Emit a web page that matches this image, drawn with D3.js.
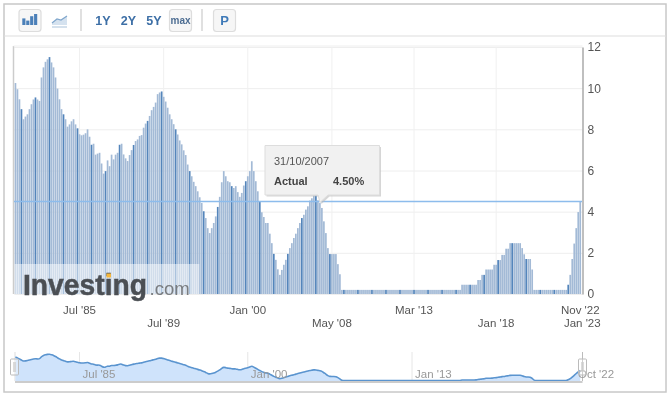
<!DOCTYPE html>
<html>
<head>
<meta charset="utf-8">
<script src="https://cdn.jsdelivr.net/npm/d3@7"></script>
<style>
  html, body { margin: 0; padding: 0; background: #fff; }
  svg { display: block; filter: blur(0.45px); font-family: "Liberation Sans", Arial, sans-serif; }
</style>
</head>
<body>
<div id="container"></div>
<script>
/* DATA */
const rates = [
  10.25,9.95,9.46,8.98,8.49,8.62,8.73,8.98,9.22,9.45,9.55,9.45,9.38,10.52,11.01,11.28,11.4,11.51,11.25,11.01,
  10.52,9.98,9.46,8.98,8.73,8.49,8.13,8.24,8.39,8.49,8.24,8.05,7.76,7.71,7.74,7.81,8.0,7.64,7.25,7.3,
  6.77,6.82,6.86,6.34,5.85,5.97,6.49,6.21,6.77,6.54,6.77,6.86,7.25,
  7.3,6.78,6.59,6.46,6.75,6.99,7.24,7.43,7.51,7.68,7.72,8.08,8.28,8.41,8.65,8.93,9.09,9.3,9.71,9.79,
  9.84,9.58,9.35,9.05,8.73,8.49,8.25,8.0,7.75,7.46,7.27,6.98,6.75,6.29,5.97,5.72,5.45,5.24,4.99,4.7,
  4.42,4.02,3.69,3.2,2.96,3.2,3.45,3.77,4.23,4.72,5.43,5.97,5.72,5.48,5.43,5.24,5.15,5.24,4.95,4.72,
  4.91,5.27,5.48,5.72,5.97,6.45,5.97,5.48,4.99,4.5,3.97,3.74,3.45,3.45,2.93,2.47,1.95,1.66,1.2,0.93,
  1.17,1.42,1.66,1.95,2.23,2.47,2.72,2.93,3.2,3.45,3.69,3.85,4.1,4.26,
  4.54,4.65,4.78,4.78,4.55,4.42,4.18,3.53,2.96,2.23,1.94,1.94,1.94,1.94,1.45,0.96,
  0.2,0.2,0.2,0.2,0.2,0.2,0.2,0.2,0.2,0.2,0.2,0.2,0.2,0.2,0.2,0.2,0.2,0.2,0.2,0.2,
  0.2,0.2,0.2,0.2,0.2,0.2,0.2,0.2,0.2,0.2,0.2,0.2,0.2,0.2,0.2,0.2,0.2,0.2,0.2,0.2,
  0.2,0.2,0.2,0.2,0.2,0.2,0.2,0.2,0.2,0.2,0.2,0.2,0.2,0.2,0.2,0.2,0.2,0.2,0.2,0.2,
  0.45,0.45,0.45,0.45,0.45,0.45,0.45,0.45,0.68,0.68,0.93,0.93,1.19,1.19,1.19,1.19,1.42,1.42,1.65,1.65,
  1.9,1.9,2.2,2.2,2.47,2.47,2.47,2.47,2.47,2.47,2.23,1.93,1.7,1.7,1.7,1.19,
  0.2,0.2,0.2,0.2,0.2,0.2,0.2,0.2,0.2,0.2,0.2,0.2,0.2,0.2,0.2,0.2,0.2,
  0.45,0.93,1.7,2.45,3.2,3.98,4.5
];
const yTicks = [0, 2, 4, 6, 8, 10, 12];
const xTickIndex = [32, 74, 116, 158, 199, 240, 282, 283];
const xTickLabels = ["Jul '85", "Jul '89", "Jan '00", "May '08", "Mar '13", "Jan '18", "Nov '22", "Jan '23"];
const xTickRow = [0, 1, 0, 1, 0, 1, 0, 1];
const navTickIndex = [32, 116, 198];
const navTickLabels = ["Jul '85", "Jan '00", "Jan '13"];
const navEndLabel = "Oct '22";
const rangeButtons = ["1Y", "2Y", "5Y"];
const iconBars = [3, 2, 4, 5];
const tooltipDate = "31/10/2007";
const tooltipName = "Actual";
const tooltipValue = 4.5;

/* CONSTANTS */
const width = 672, height = 396;
const plotLeft = 14.3, plotRight = 583.4, plotTop = 47, plotBottom = 294;
const navTop = 352, navBottom = 381;
const textColor = "#555";

const svg = d3.select("#container").append("svg")
  .attr("width", width)
  .attr("height", height);

svg.append("rect")
  .attr("x", 4).attr("y", 4).attr("width", 662).attr("height", 388)
  .attr("fill", "#fff").attr("stroke", "#c8c8c8").attr("stroke-width", 1.5);

/* SCALES */
const xScale = d3.scaleBand()
  .domain(d3.range(rates.length + 1))
  .range([plotLeft, plotRight])
  .padding(0.15);

const xCenter = i => xScale(i) + xScale.bandwidth() / 2;

const yScale = d3.scaleLinear()
  .domain([0, 12])
  .range([plotBottom, plotTop]);

const navY = d3.scaleLinear()
  .domain([0, 12])
  .range([navBottom, navTop + 1]);

/* TOOLBAR */
const toolbar = svg.append("g").attr("class", "toolbar");

function button(x, w) {
  toolbar.append("rect")
    .attr("x", x).attr("y", 9.5).attr("width", w).attr("height", 22).attr("rx", 3)
    .attr("fill", "#f6f6f6").attr("stroke", "#ddd").attr("stroke-width", 1.2);
}

button(19, 22);
const iconX = d3.scaleBand().domain(d3.range(iconBars.length)).range([21.5, 38]).padding(0.2);
const iconY = d3.scaleLinear().domain([0, 5]).range([25, 14]);
toolbar.selectAll(".icon-bar")
  .data(iconBars)
  .join("rect")
  .attr("class", "icon-bar")
  .attr("x", (d, i) => iconX(i))
  .attr("y", d => iconY(d))
  .attr("width", iconX.bandwidth())
  .attr("height", d => 25 - iconY(d))
  .attr("fill", "#4a7fb8");

toolbar.append("path")
  .attr("d", "M52,25 L52,23 L57,19 L61,20 L67,16 L67,25 Z")
  .attr("fill", "#d5e2ef");
toolbar.append("path")
  .attr("d", "M52,23 L57,19 L61,20 L67,16")
  .attr("fill", "none").attr("stroke", "#7fa6cc").attr("stroke-width", 1.2);
toolbar.append("line")
  .attr("x1", 52).attr("x2", 67).attr("y1", 27).attr("y2", 27)
  .attr("stroke", "#a9c2da");

[81, 202].forEach(x => {
  toolbar.append("line")
    .attr("x1", x).attr("x2", x).attr("y1", 9).attr("y2", 31)
    .attr("stroke", "#ccc").attr("stroke-width", 1.2);
});

toolbar.selectAll(".range")
  .data(rangeButtons)
  .join("text")
  .attr("class", "range")
  .attr("x", (d, i) => 103 + i * 25.5)
  .attr("y", 25)
  .attr("text-anchor", "middle")
  .attr("font-size", 12.5)
  .attr("font-weight", "bold")
  .attr("fill", "#3d6fa6")
  .text(d => d);

button(169.5, 22);
toolbar.append("text")
  .attr("x", 180.5).attr("y", 24)
  .attr("text-anchor", "middle")
  .attr("font-size", 10).attr("font-weight", "bold").attr("fill", "#4d6d92")
  .text("max");

button(213.5, 22);
toolbar.append("text")
  .attr("x", 224.5).attr("y", 25)
  .attr("text-anchor", "middle")
  .attr("font-size", 13).attr("font-weight", "bold").attr("fill", "#3f7ab8")
  .text("P");

toolbar.append("line")
  .attr("x1", 4).attr("x2", 666).attr("y1", 36).attr("y2", 36)
  .attr("stroke", "#ddd");

/* GRID */
svg.append("g")
  .attr("class", "y-grid")
  .attr("transform", `translate(${plotLeft},0)`)
  .call(d3.axisRight(yScale).tickValues(yTicks).tickSize(plotRight - 0.9 - plotLeft).tickFormat(""))
  .call(g => g.select(".domain").remove())
  .call(g => g.selectAll("line").attr("stroke", "#eee"));

svg.append("g")
  .attr("class", "x-grid")
  .attr("transform", `translate(0,${plotBottom})`)
  .call(d3.axisTop(xScale).tickValues(xTickIndex.slice(0, 6)).tickSize(plotBottom - plotTop).tickFormat(""))
  .call(g => g.select(".domain").remove())
  .call(g => g.selectAll("line").attr("stroke", "#f0f0f0"));

/* BARS */
svg.selectAll(".bar")
  .data(rates)
  .join("rect")
  .attr("class", "bar")
  .attr("x", (d, i) => xScale(i))
  .attr("y", d => yScale(d))
  .attr("width", xScale.bandwidth())
  .attr("height", d => plotBottom - yScale(d))
  .attr("fill", (d, i) => i % 7 === 3 ? "#5485bb" : "#a3bad6");

/* WATERMARK */
const mark = svg.append("g").attr("class", "watermark");
mark.append("rect")
  .attr("x", plotLeft).attr("y", 264).attr("width", 185).attr("height", 30)
  .attr("fill", "#fff").attr("opacity", 0.5);
mark.append("text")
  .attr("x", 23).attr("y", 295)
  .attr("font-size", 29).attr("font-weight", "bold").attr("fill", "#4b4f54")
  .attr("stroke", "#4b4f54").attr("stroke-width", 0.5)
  .attr("textLength", 124).attr("lengthAdjust", "spacingAndGlyphs")
  .text("Investing");
mark.append("text")
  .attr("x", 149.5).attr("y", 295)
  .attr("font-size", 18.5).attr("fill", "#7a7d80")
  .text(".com");
mark.append("rect")
  .attr("x", 106.5).attr("y", 273.5).attr("width", 4.5).attr("height", 4)
  .attr("fill", "#f6b73c");

/* AXES */
svg.append("line")
  .attr("x1", 13.5).attr("x2", 13.5).attr("y1", plotTop - 1).attr("y2", plotBottom)
  .attr("stroke", "#ccc").attr("stroke-width", 1.5);
svg.append("line")
  .attr("x1", 13.5).attr("x2", 582.5).attr("y1", plotTop - 1).attr("y2", plotTop - 1)
  .attr("stroke", "#eee");

svg.append("g")
  .attr("class", "y-axis")
  .attr("transform", "translate(582.5,0)")
  .call(d3.axisRight(yScale).tickValues(yTicks).tickSize(0).tickPadding(5))
  .call(g => g.select(".domain").attr("stroke", "#aaa").attr("stroke-width", 1.5))
  .call(g => g.selectAll("text").attr("font-size", 12).attr("font-family", null).attr("fill", textColor));

svg.append("g")
  .attr("class", "x-axis")
  .attr("transform", `translate(0,${plotBottom})`)
  .call(d3.axisBottom(xScale).tickValues(xTickIndex).tickSize(0)
    .tickFormat((d, i) => xTickLabels[i]))
  .call(g => g.select(".domain").remove())
  .call(g => g.selectAll("text")
    .attr("dy", 0)
    .attr("y", (d, i) => xTickRow[i] ? 33 : 20)
    .attr("font-size", 11.5).attr("font-family", null).attr("fill", textColor));

/* HIGHLIGHT LINE */
svg.append("line")
  .attr("x1", 14).attr("x2", 582)
  .attr("y1", yScale(tooltipValue)).attr("y2", yScale(tooltipValue))
  .attr("stroke", "#8dbcec").attr("stroke-width", 1.5);

/* TOOLTIP */
const tip = svg.append("g").attr("class", "tooltip");
const tipPath = "M265,145.5 H379.5 V195 H328 L320,202.5 L318,195 H265 Z";
tip.append("path")
  .attr("d", tipPath)
  .attr("transform", "translate(1.5,1.5)")
  .attr("fill", "#bbb").attr("opacity", 0.6);
tip.append("path")
  .attr("d", tipPath)
  .attr("fill", "#f1f1f1").attr("stroke", "#ddd");
tip.append("text")
  .attr("x", 274).attr("y", 165)
  .attr("font-size", 11).attr("fill", textColor)
  .text(tooltipDate);
tip.append("text")
  .attr("x", 274).attr("y", 185)
  .attr("font-size", 11).attr("font-weight", "bold").attr("fill", "#444")
  .text(tooltipName);
tip.append("text")
  .attr("x", 333).attr("y", 185)
  .attr("font-size", 11).attr("font-weight", "bold").attr("fill", "#444")
  .text(d3.format(".2f")(tooltipValue) + "%");

/* NAVIGATOR */
const nav = svg.append("g").attr("class", "navigator");

nav.selectAll(".nav-grid")
  .data(navTickIndex)
  .join("line")
  .attr("class", "nav-grid")
  .attr("x1", d => xCenter(d)).attr("x2", d => xCenter(d))
  .attr("y1", navTop).attr("y2", navBottom)
  .attr("stroke", "#e6e6e6");

nav.append("line")
  .attr("x1", 15).attr("x2", 15).attr("y1", navTop).attr("y2", navBottom)
  .attr("stroke", "#ddd");
nav.append("line")
  .attr("x1", 582.5).attr("x2", 582.5).attr("y1", navTop).attr("y2", navBottom)
  .attr("stroke", "#bbb");

nav.append("path")
  .datum(rates)
  .attr("fill", "#cfe3fb")
  .attr("d", d3.area()
    .x((d, i) => xCenter(i))
    .y0(navBottom)
    .y1(d => navY(d))
    .curve(d3.curveBasis));

nav.append("path")
  .datum(rates)
  .attr("fill", "none")
  .attr("stroke", "#5a94cf")
  .attr("stroke-width", 1.6)
  .attr("d", d3.line()
    .x((d, i) => xCenter(i))
    .y(d => navY(d))
    .curve(d3.curveBasis));

nav.append("line")
  .attr("x1", 15).attr("x2", 582.5).attr("y1", 382).attr("y2", 382)
  .attr("stroke", "#ccc").attr("stroke-width", 2);

nav.selectAll(".nav-label")
  .data(navTickIndex)
  .join("text")
  .attr("class", "nav-label")
  .attr("x", d => xCenter(d) + 3)
  .attr("y", 378)
  .attr("font-size", 11.5).attr("fill", "#999")
  .text((d, i) => navTickLabels[i]);
nav.append("text")
  .attr("x", 578).attr("y", 378)
  .attr("font-size", 11.5).attr("fill", "#999")
  .text(navEndLabel);

[10.5, 578.5].forEach(x => {
  nav.append("rect")
    .attr("x", x).attr("y", 359).attr("width", 8).attr("height", 16).attr("rx", 1)
    .attr("fill", "#fff").attr("fill-opacity", 0.3).attr("stroke", "#bbb");
  nav.append("rect")
    .attr("x", x + 2.5).attr("y", 362).attr("width", 3).attr("height", 10)
    .attr("fill", "#ccc").attr("fill-opacity", 0.7);
});
</script>
</body>
</html>
